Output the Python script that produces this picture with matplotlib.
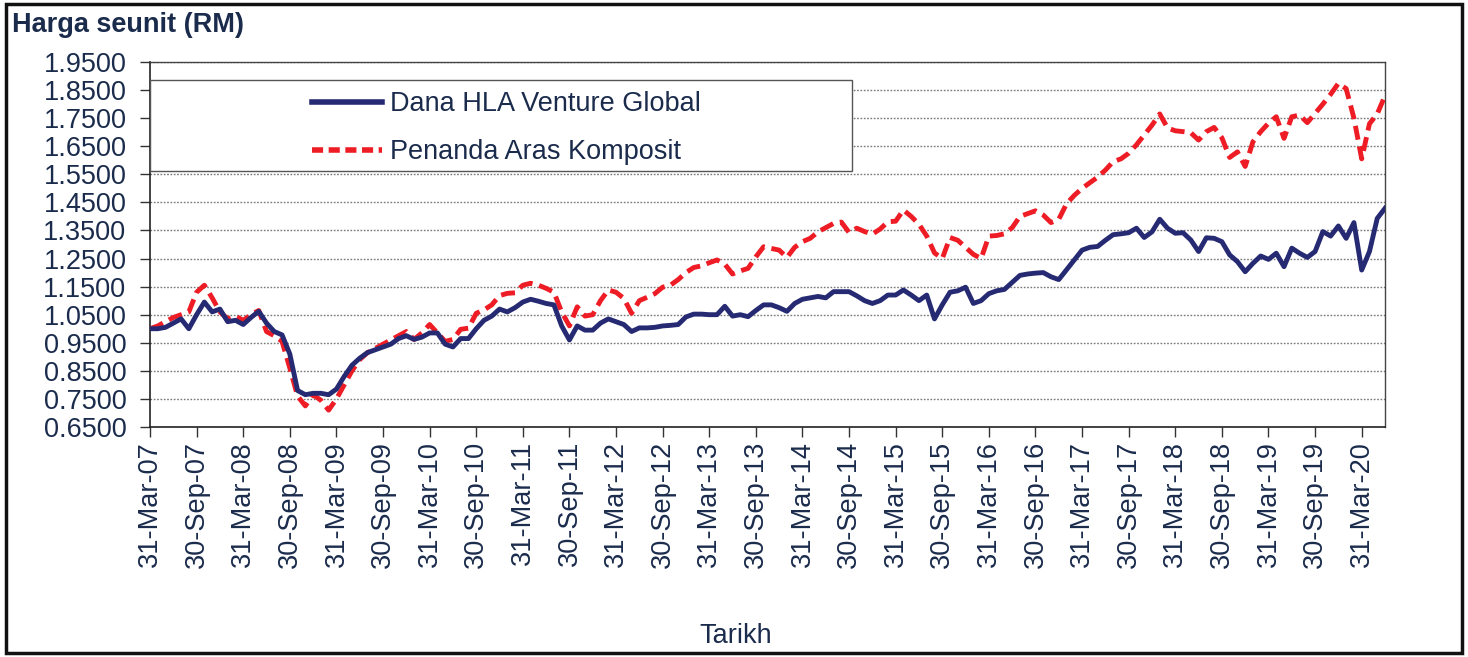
import numpy as np
import matplotlib
matplotlib.use("Agg")
import matplotlib.pyplot as plt
from matplotlib.patches import Rectangle

plt.rcParams['font.family'] = ['Liberation Sans', 'DejaVu Sans']

# ---------------- data ----------------
fund = [
    1.00, 1.00, 1.005, 1.02, 1.035, 1.00, 1.05, 1.095, 1.06, 1.07,
    1.025, 1.03, 1.015, 1.04, 1.062, 1.02, 0.99, 0.978, 0.91, 0.78,
    0.765, 0.77, 0.77, 0.765, 0.785, 0.83, 0.87, 0.895, 0.915, 0.925,
    0.935, 0.945, 0.965, 0.975, 0.962, 0.97, 0.985, 0.985, 0.945, 0.935,
    0.965, 0.965, 1.00, 1.03, 1.045, 1.07, 1.06, 1.075, 1.095, 1.105,
    1.098, 1.09, 1.085, 1.01, 0.96, 1.01, 0.995, 0.995, 1.02, 1.035,
    1.025, 1.015, 0.99, 1.003, 1.003, 1.005, 1.01, 1.012, 1.015, 1.042,
    1.052, 1.052, 1.05, 1.05, 1.08, 1.045, 1.05, 1.043, 1.065, 1.085,
    1.085, 1.075, 1.062, 1.09, 1.105, 1.11, 1.115, 1.11, 1.132, 1.132,
    1.132, 1.117, 1.10, 1.09, 1.10, 1.12, 1.12, 1.138, 1.12, 1.10,
    1.12, 1.035, 1.085, 1.13, 1.135, 1.148, 1.09, 1.10, 1.125, 1.135,
    1.14, 1.165, 1.19, 1.195, 1.198, 1.20, 1.185, 1.175, 1.21, 1.245,
    1.28, 1.29, 1.293, 1.315, 1.335, 1.338, 1.342, 1.358, 1.325, 1.345,
    1.39, 1.358, 1.34, 1.342, 1.316, 1.275, 1.324, 1.322, 1.31, 1.263,
    1.239, 1.203, 1.233, 1.259, 1.247, 1.269, 1.221, 1.287, 1.269, 1.254,
    1.275, 1.346, 1.33, 1.366, 1.322, 1.378, 1.209, 1.275, 1.393, 1.429,
]

benchmark = [
    1.00, 1.01, 1.025, 1.04, 1.05, 1.06, 1.13, 1.155, 1.11, 1.06,
    1.035, 1.045, 1.03, 1.05, 1.065, 0.99, 0.975, 0.955, 0.86, 0.76,
    0.725, 0.765, 0.745, 0.71, 0.75, 0.80, 0.85, 0.89, 0.915, 0.93,
    0.945, 0.96, 0.975, 0.99, 0.962, 0.985, 1.015, 0.985, 0.955, 0.962,
    0.998, 1.002, 1.055, 1.067, 1.085, 1.118, 1.126, 1.128, 1.155, 1.162,
    1.155, 1.144, 1.13, 1.06, 1.01, 1.078, 1.045, 1.05, 1.10, 1.138,
    1.13, 1.108, 1.055, 1.10, 1.112, 1.125, 1.148, 1.155, 1.175, 1.20,
    1.218, 1.224, 1.235, 1.245, 1.23, 1.195, 1.206, 1.215, 1.256, 1.292,
    1.286, 1.28, 1.254, 1.29, 1.31, 1.322, 1.345, 1.36, 1.375, 1.38,
    1.343, 1.358, 1.346, 1.337, 1.355, 1.381, 1.383, 1.423, 1.40, 1.372,
    1.33, 1.27, 1.25, 1.325, 1.315, 1.29, 1.265, 1.25, 1.33, 1.332,
    1.338, 1.36, 1.40, 1.41, 1.42, 1.405, 1.378, 1.39, 1.445, 1.475,
    1.50, 1.52, 1.54, 1.565, 1.595, 1.605, 1.625, 1.655, 1.69, 1.725,
    1.765, 1.715, 1.705, 1.702, 1.698, 1.672, 1.702, 1.717, 1.68, 1.61,
    1.63, 1.578, 1.666, 1.702, 1.732, 1.755, 1.678, 1.755, 1.761, 1.734,
    1.767, 1.80, 1.835, 1.874, 1.855, 1.75, 1.605, 1.73, 1.765, 1.83,
]

tick_labels = [
    "31-Mar-07", "30-Sep-07", "31-Mar-08", "30-Sep-08", "31-Mar-09",
    "30-Sep-09", "31-Mar-10", "30-Sep-10", "31-Mar-11", "30-Sep-11",
    "31-Mar-12", "30-Sep-12", "31-Mar-13", "30-Sep-13", "31-Mar-14",
    "30-Sep-14", "31-Mar-15", "30-Sep-15", "31-Mar-16", "30-Sep-16",
    "31-Mar-17", "30-Sep-17", "31-Mar-18", "30-Sep-18", "31-Mar-19",
    "30-Sep-19", "31-Mar-20",
]

series_names = ["Dana HLA Venture Global", "Penanda Aras Komposit"]
y_ticks = [0.65, 0.75, 0.85, 0.95, 1.05, 1.15, 1.25, 1.35, 1.45, 1.55,
           1.65, 1.75, 1.85, 1.95]

# ---------------- style ----------------
TXT = '#1a2b4c'
BLUE = '#262a72'
RED = '#ee1c25'
FS = 19.5
LW = 3.5

W, H = 1468, 657
fig = plt.figure(figsize=(W / 100, H / 100), dpi=100)
ax = fig.add_axes([150 / W, 1 - 427 / H, (1385 - 150) / W, (427 - 62) / H])

x = np.arange(len(fund))
ax.plot(x, benchmark, color=RED, lw=LW, dashes=(2.9, 1.4),
        dash_capstyle='butt', label=series_names[1], zorder=3)
ax.plot(x, fund, color=BLUE, lw=LW, solid_joinstyle='round',
        label=series_names[0], zorder=4)

ax.set_xlim(0, len(fund) - 1)
ax.set_ylim(0.65, 1.95)
ax.set_yticks(y_ticks)
ax.set_yticklabels([f"{v:.4f}" for v in y_ticks], fontsize=FS, color=TXT)
ax.set_xticks(np.arange(0, len(fund), 6)[:len(tick_labels)])
ax.set_xticklabels(tick_labels, rotation=90, fontsize=FS, color=TXT)
ax.tick_params(axis='both', direction='out', length=7, width=1,
               color='#333333')
ax.tick_params(axis='y', pad=10)
ax.tick_params(axis='x', pad=3)

ax.yaxis.grid(True, linestyle=(0, (1.2, 1.2)), color='#777777', lw=1.0)
ax.set_axisbelow(True)
for s in ['left', 'bottom']:
    ax.spines[s].set_color('#222222')
    ax.spines[s].set_linewidth(1.2)
for s in ['top', 'right']:
    ax.spines[s].set_color('#444444')
    ax.spines[s].set_linewidth(1.0)

# legend box
x0 = 0.0
x1 = (852 - 150) / (1385 - 150)
yb = (427 - 171) / (427 - 62)
yt = (427 - 80) / (427 - 62)
box = Rectangle((x0, yb), x1 - x0, yt - yb, transform=ax.transAxes,
                facecolor='white', edgecolor='#555555', lw=1.0, zorder=5)
ax.add_patch(box)

h_blue, = ax.plot([], [], color=BLUE, lw=4.0)
h_red, = ax.plot([], [], color=RED, lw=4.0, dashes=(2.0, 1.0),
                 dash_capstyle='butt')
leg = ax.legend([h_blue, h_red], series_names, loc='upper left',
                bbox_to_anchor=((312 - 150) / (1385 - 150), (427 - 91) / (427 - 62)),
                frameon=False, fontsize=FS, handlelength=2.6,
                handletextpad=0.28, labelspacing=0.82, borderpad=0,
                borderaxespad=0)
leg.set_zorder(6)
for t in leg.get_texts():
    t.set_color(TXT)

fig.text(12 / W, 1 - 25 / H, "Harga seunit (RM)", fontsize=FS,
         fontweight='bold', color=TXT, ha='left', va='center')
fig.text(736 / W, 1 - 636 / H, "Tarikh", fontsize=FS, color=TXT,
         ha='center', va='center')

frame = Rectangle((6 / W, 4 / H), (1462 - 6) / W, (653 - 4) / H,
                  transform=fig.transFigure, fill=False,
                  edgecolor='#111111', lw=2.5)
fig.patches.append(frame)

fig.savefig("out.png", dpi=100)
